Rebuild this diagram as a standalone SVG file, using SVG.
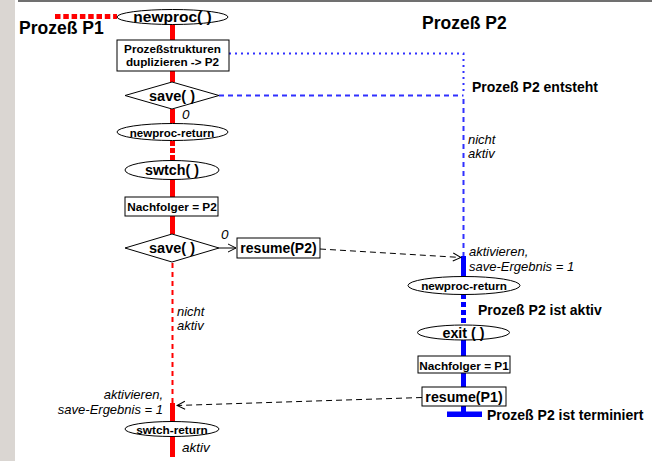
<svg xmlns="http://www.w3.org/2000/svg" width="661" height="461" viewBox="0 0 661 461">
<defs>
<style>
text{font-family:"Liberation Sans",Arial,Helvetica,sans-serif;fill:#000}
.b{font-weight:bold}
.i{font-style:italic;font-size:13.5px}
.i2{font-style:italic;font-size:13px}
.m{text-anchor:middle}
.shape{fill:#fff;stroke:#000;stroke-width:1}
.red{stroke:#ff0000;stroke-width:5;fill:none}
.redd{stroke:#ff0000;stroke-width:2;stroke-dasharray:5 4;fill:none}
.blue{stroke:#0000ff;stroke-width:5;fill:none}
.bdash{stroke:#3030ff;stroke-width:2;stroke-dasharray:5 4;fill:none}
.bdot{stroke:#3030ff;stroke-width:2;stroke-dasharray:2 4;fill:none}
.arr{stroke:#000;stroke-width:1;fill:none}
</style>
<marker id="ah" viewBox="0 0 10 10" refX="9" refY="5" markerWidth="10" markerHeight="10" markerUnits="userSpaceOnUse" orient="auto">
<path d="M1,1 L9,5 L1,9" fill="none" stroke="#000" stroke-width="1"/>
</marker>
</defs>
<rect x="0" y="0" width="15" height="461" fill="#dad6d2"/>
<line x1="18" y1="1" x2="652" y2="1" stroke="#707070" stroke-width="2"/>

<g id="connectors">
<line class="red" x1="55" y1="16.5" x2="117" y2="16.5" style="stroke-dasharray:5.5 2.8"/>
<line class="red" x1="172.5" y1="24" x2="172.5" y2="40"/>
<line class="red" x1="172.5" y1="71" x2="172.5" y2="82"/>
<line class="red" x1="172.5" y1="109" x2="172.5" y2="124"/>
<line class="red" x1="172.5" y1="141" x2="172.5" y2="161" style="stroke-dasharray:5 2"/>
<line class="red" x1="172.5" y1="179" x2="172.5" y2="197"/>
<line class="red" x1="172.5" y1="216" x2="172.5" y2="234"/>
<line class="redd" x1="172.5" y1="263" x2="172.5" y2="403"/>
<line class="red" x1="172.5" y1="403" x2="172.5" y2="422"/>
<line class="red" x1="172.5" y1="436" x2="172.5" y2="457"/>
<polyline class="bdot" points="229,53.5 463.5,53.5 463.5,95"/>
<line class="bdash" x1="219" y1="95.5" x2="463.5" y2="95.5"/>
<line class="bdash" x1="463.5" y1="99" x2="463.5" y2="256"/>
<line class="blue" x1="463.5" y1="256" x2="463.5" y2="277"/>
<line class="blue" x1="463.5" y1="294" x2="463.5" y2="325" style="stroke-dasharray:5 3"/>
<line class="blue" x1="463.5" y1="340" x2="463.5" y2="356"/>
<line class="blue" x1="463.5" y1="373" x2="463.5" y2="387"/>
<line class="blue" x1="463.5" y1="406" x2="463.5" y2="412"/>
<rect x="447" y="411.5" width="35" height="5.5" fill="#0000ff"/>
<line class="arr" x1="219" y1="248" x2="236" y2="248" marker-end="url(#ah)"/>
<line class="arr" x1="320" y1="249" x2="461" y2="257.5" style="stroke-dasharray:6 4" marker-end="url(#ah)"/>
<line class="arr" x1="422" y1="397.5" x2="177" y2="405.5" style="stroke-dasharray:6 4" marker-end="url(#ah)"/>
</g>

<g id="labels">
<text class="b" x="19" y="34" font-size="17.5">Prozeß P1</text>
<text class="b" x="422" y="29" font-size="17.5">Prozeß P2</text>
<text class="b" x="472" y="92" font-size="14">Prozeß P2 entsteht</text>
<text class="b" x="478" y="315" font-size="14">Prozeß P2 ist aktiv</text>
<text class="b" x="487" y="420" font-size="14">Prozeß P2 ist terminiert</text>
<text class="i" x="182" y="119">0</text>
<text class="i" x="221" y="239">0</text>
<text class="i2"><tspan x="468" y="143.75">nicht</tspan><tspan x="468" y="158.25">aktiv</tspan></text>
<text class="i2"><tspan x="469" y="256.25">aktivieren,</tspan><tspan x="469" y="270.75">save-Ergebnis = 1</tspan></text>
<text class="i2"><tspan x="177" y="315.75">nicht</tspan><tspan x="177" y="330.25">aktiv</tspan></text>
<text class="i2" text-anchor="end"><tspan x="163" y="399">aktivieren,</tspan><tspan x="163" y="413.5">save-Ergebnis = 1</tspan></text>
<text class="i" x="182" y="452">aktiv</text>
</g>

<g id="newproc">
<ellipse class="shape" cx="172.5" cy="17" rx="55.5" ry="7.5"/>
<text class="b m" x="172.5" y="22" font-size="15.5">newproc( )</text>
</g>
<g id="dup">
<rect class="shape" x="117" y="40" width="112" height="31"/>
<text class="b m" font-size="11.7"><tspan x="172.5" y="53">Prozeßstrukturen</tspan><tspan x="172.5" y="65.5">duplizieren -&gt; P2</tspan></text>
</g>
<g id="save1">
<polygon class="shape" points="125,95.5 172,82 219,95.5 172,109"/>
<text class="b m" x="172" y="100.5" font-size="14.5">save( )</text>
</g>
<g id="newproc-return1">
<ellipse class="shape" cx="172.5" cy="132" rx="55.5" ry="8.5"/>
<text class="b m" x="172" y="136.5" font-size="11.5">newproc-return</text>
</g>
<g id="swtch">
<ellipse class="shape" cx="172" cy="170" rx="47" ry="9.5"/>
<text class="b m" x="172" y="175" font-size="14.3">swtch( )</text>
</g>
<g id="nachfolger-p2">
<rect class="shape" x="125" y="197" width="93" height="19"/>
<text class="b m" x="172" y="211" font-size="11.8">Nachfolger = P2</text>
</g>
<g id="save2">
<polygon class="shape" points="125,248 172,234 219,248 172,262"/>
<text class="b m" x="172" y="253" font-size="14.5">save( )</text>
</g>
<g id="resume-p2">
<rect class="shape" x="237" y="238" width="83" height="20"/>
<text class="b m" x="278.5" y="253" font-size="14">resume(P2)</text>
</g>
<g id="swtch-return">
<ellipse class="shape" cx="172" cy="429" rx="47" ry="7.5"/>
<text class="b m" x="172" y="433.5" font-size="11.8">swtch-return</text>
</g>
<g id="newproc-return2">
<ellipse class="shape" cx="464" cy="285.5" rx="56" ry="9"/>
<text class="b m" x="464" y="290" font-size="11.7">newproc-return</text>
</g>
<g id="exit">
<ellipse class="shape" cx="463.5" cy="332.5" rx="46" ry="7.5"/>
<text class="b m" x="463.5" y="337.5" font-size="14.3">exit ( )</text>
</g>
<g id="nachfolger-p1">
<rect class="shape" x="418" y="356" width="92" height="17"/>
<text class="b m" x="464" y="369.5" font-size="11.8">Nachfolger = P1</text>
</g>
<g id="resume-p1">
<rect class="shape" x="422" y="387" width="84" height="19"/>
<text class="b m" x="464" y="401.5" font-size="14.2">resume(P1)</text>
</g>
</svg>
